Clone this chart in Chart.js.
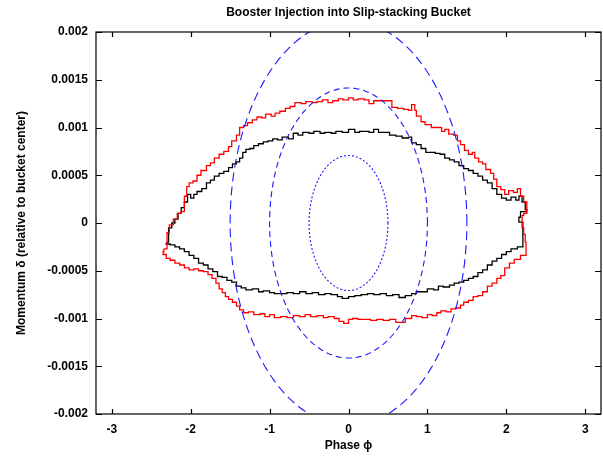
<!DOCTYPE html>
<html>
<head>
<meta charset="utf-8">
<script src="https://cdn.jsdelivr.net/npm/chart.js@4"></script>
<style>
  html, body { margin: 0; padding: 0; background: #fff; }
  #phaseChart { display: block; }
</style>
</head>
<body>
<canvas id="phaseChart" width="603" height="456"></canvas>
<script>
// axis ticks
const xTickValues = [-3, -2, -1, 0, 1, 2, 3];
const yTickValues = [-0.002, -0.0015, -0.001, -0.0005, 0, 0.0005, 0.001, 0.0015, 0.002];
const yTickLabels = ["-0.002", "-0.0015", "-0.001", "-0.0005", "0", "0.0005", "0.001", "0.0015", "0.002"];

// bucket contours: semi-axes in phase and momentum
const ellipsePhase = [0.5, 1.0, 1.5];
const ellipseDelta = [0.000707, 0.001414, 0.00212];
const ellipseDash = [[2, 2], [6, 4], [9, 5]];

// red beam outline (phase, delta in units of 1e-3)
const redPhase = [
  -2.34, -2.30, -2.27, -2.22, -2.17, -2.12, -2.08, -2.05, -2.02, -1.97, -1.92, -1.87, -1.80, -1.75,
  -1.70, -1.64, -1.58, -1.52, -1.48, -1.42, -1.38, -1.33, -1.28, -1.22, -1.16, -1.10, -1.05, -0.98,
  -0.93, -0.87, -0.80, -0.74, -0.68, -0.60, -0.54, -0.46, -0.40, -0.33, -0.26, -0.20, -0.13, -0.07,
  0.00, 0.06, 0.12, 0.20, 0.26, 0.32, 0.40, 0.50, 0.55, 0.62, 0.70, 0.76, 0.80, 0.84, 0.86, 0.92,
  0.97, 1.05, 1.12, 1.18, 1.22, 1.27, 1.33, 1.38, 1.42, 1.47, 1.52, 1.57, 1.60, 1.65, 1.70, 1.74,
  1.80, 1.84, 1.88, 1.93, 1.98, 2.03, 2.09, 2.14, 2.18, 2.22, 2.26, 2.26,
  2.22, 2.20, 2.22, 2.24, 2.25,
  2.18, 2.10, 2.04, 1.98, 1.93, 1.88, 1.82, 1.76, 1.70, 1.64, 1.58, 1.52, 1.46, 1.42, 1.36, 1.30,
  1.24, 1.17, 1.12, 1.06, 1.00, 0.93, 0.86, 0.80, 0.72, 0.66, 0.60, 0.52, 0.44, 0.36, 0.28, 0.20,
  0.12, 0.05, 0.00, -0.06, -0.12, -0.18, -0.26, -0.32, -0.40, -0.48, -0.55, -0.62, -0.70, -0.78,
  -0.86, -0.94, -1.00, -1.06, -1.12, -1.20, -1.27, -1.33, -1.38, -1.42, -1.47, -1.52, -1.56, -1.60,
  -1.64, -1.68, -1.73, -1.78, -1.84, -1.90, -1.96, -2.02, -2.08, -2.14, -2.20, -2.26, -2.31, -2.35,
  -2.34
];
const redDelta = [
  -0.27, -0.10, -0.02, 0.04, 0.10, 0.12, 0.28, 0.38, 0.42, 0.44, 0.50, 0.55, 0.60, 0.63,
  0.68, 0.72, 0.75, 0.80, 0.86, 0.92, 1.00, 1.02, 1.05, 1.08, 1.11, 1.10, 1.14, 1.12,
  1.15, 1.17, 1.20, 1.22, 1.26, 1.25, 1.27, 1.26, 1.27, 1.29, 1.26, 1.28, 1.30, 1.29,
  1.31, 1.29, 1.30, 1.29, 1.25, 1.28, 1.28, 1.28, 1.21, 1.20, 1.19, 1.18, 1.24, 1.18, 1.12, 1.06,
  1.03, 1.00, 1.00, 0.96, 0.98, 0.93, 0.92, 0.86, 0.82, 0.76, 0.72, 0.74, 0.68, 0.64, 0.62, 0.56,
  0.52, 0.46, 0.38, 0.35, 0.30, 0.34, 0.32, 0.36, 0.28, 0.22, 0.18, 0.10,
  0.08, -0.05, -0.12, -0.20, -0.34,
  -0.38, -0.42, -0.47, -0.55, -0.58, -0.63, -0.66, -0.72, -0.76, -0.77, -0.81, -0.83, -0.86, -0.89, -0.90, -0.93,
  -0.92, -0.94, -0.97, -0.96, -0.99, -0.98, -0.97, -1.00, -1.04, -1.04, -1.01, -1.02, -1.01, -1.02, -1.01, -1.01,
  -1.00, -1.01, -1.05, -1.03, -1.00, -0.98, -0.99, -0.97, -0.98, -0.96, -0.98, -0.97, -0.99, -0.98,
  -0.99, -0.96, -0.98, -0.95, -0.96, -0.93, -0.94, -0.91, -0.87, -0.83, -0.80, -0.77, -0.73, -0.69,
  -0.63, -0.58, -0.54, -0.51, -0.50, -0.48, -0.49, -0.47, -0.44, -0.42, -0.39, -0.37, -0.33, -0.30,
  -0.27
];

// black beam outline (phase, delta in units of 1e-3)
const blackPhase = [
  -2.30, -2.28, -2.24, -2.20, -2.16, -2.12, -2.08, -2.04, -2.00, -1.96, -1.92, -1.86, -1.80, -1.75,
  -1.70, -1.64, -1.58, -1.52, -1.47, -1.42, -1.38, -1.34, -1.30, -1.25, -1.20, -1.14, -1.08, -1.02,
  -0.96, -0.90, -0.84, -0.76, -0.70, -0.64, -0.58, -0.50, -0.44, -0.36, -0.30, -0.22, -0.16, -0.08,
  0.00, 0.08, 0.14, 0.20, 0.26, 0.32, 0.38, 0.46, 0.52, 0.60, 0.68, 0.76, 0.80, 0.86, 0.92, 0.98,
  1.04, 1.10, 1.16, 1.22, 1.28, 1.34, 1.40, 1.46, 1.52, 1.58, 1.64, 1.70, 1.76, 1.82, 1.88, 1.94,
  2.00, 2.06, 2.12, 2.16, 2.20, 2.24, 2.26,
  2.18, 2.16, 2.21, 2.21,
  2.14, 2.06, 2.00, 1.94, 1.88, 1.82, 1.76, 1.70, 1.64, 1.58, 1.52, 1.46, 1.40, 1.34, 1.28, 1.20,
  1.14, 1.08, 1.00, 0.94, 0.86, 0.80, 0.72, 0.64, 0.56, 0.48, 0.40, 0.32, 0.24, 0.16, 0.08, 0.00,
  -0.08, -0.14, -0.22, -0.30, -0.38, -0.46, -0.54, -0.62, -0.70, -0.78, -0.86, -0.94, -1.00, -1.08,
  -1.14, -1.22, -1.30, -1.36, -1.42, -1.48, -1.54, -1.60, -1.66, -1.72, -1.78, -1.84, -1.90, -1.96,
  -2.02, -2.08, -2.14, -2.20, -2.26, -2.32, -2.30
];
const blackDelta = [
  -0.20, -0.05, 0.00, 0.04, 0.10, 0.16, 0.22, 0.30, 0.26, 0.30, 0.33, 0.36, 0.42, 0.45,
  0.49, 0.52, 0.54, 0.58, 0.62, 0.64, 0.68, 0.74, 0.77, 0.78, 0.81, 0.83, 0.85, 0.86,
  0.88, 0.87, 0.90, 0.88, 0.94, 0.92, 0.95, 0.94, 0.96, 0.94, 0.95, 0.94, 0.96, 0.95,
  0.98, 0.95, 0.96, 0.96, 0.95, 0.98, 0.95, 0.95, 0.92, 0.91, 0.89, 0.90, 0.84, 0.82, 0.78, 0.74,
  0.74, 0.73, 0.72, 0.68, 0.66, 0.64, 0.60, 0.57, 0.55, 0.52, 0.49, 0.45, 0.42, 0.36, 0.30, 0.26,
  0.24, 0.27, 0.24, 0.28, 0.22, 0.14, 0.12,
  0.06, 0.01, -0.02, -0.25,
  -0.27, -0.30, -0.33, -0.37, -0.40, -0.44, -0.49, -0.52, -0.56, -0.58, -0.60, -0.62, -0.63, -0.65, -0.67, -0.66,
  -0.70, -0.69, -0.72, -0.72, -0.74, -0.76, -0.78, -0.75, -0.76, -0.74, -0.75, -0.74, -0.75, -0.76, -0.77, -0.79,
  -0.77, -0.75, -0.74, -0.75, -0.73, -0.74, -0.72, -0.74, -0.73, -0.74, -0.74, -0.73, -0.71, -0.72,
  -0.69, -0.70, -0.68, -0.66, -0.62, -0.60, -0.57, -0.56, -0.51, -0.48, -0.44, -0.42, -0.37, -0.34,
  -0.30, -0.27, -0.25, -0.23, -0.22, -0.22, -0.20
];

const FONT = "'Liberation Sans', Arial, Helvetica, sans-serif";

function outline(phase, deltaMilli) {
  return phase.map((x, i) => ({ x: x, y: deltaMilli[i] / 1000 }));
}

function ellipsePoints(a, b) {
  const pts = [];
  for (let k = 0; k <= 240; k++) {
    const t = (k / 240) * 2 * Math.PI;
    pts.push({ x: a * Math.cos(t), y: b * Math.sin(t) });
  }
  return pts;
}

const datasets = [];
ellipsePhase.forEach((a, i) => {
  datasets.push({
    data: ellipsePoints(a, ellipseDelta[i]),
    borderColor: "#1a1aff",
    borderWidth: 1.1,
    borderDash: ellipseDash[i],
    showLine: true,
    pointRadius: 0,
    tension: 0
  });
});
datasets.push({
  data: outline(redPhase, redDelta),
  borderColor: "#ff0000",
  borderWidth: 1.3,
  stepped: true,
  showLine: true,
  pointRadius: 0
});
datasets.push({
  data: outline(blackPhase, blackDelta),
  borderColor: "#000000",
  borderWidth: 1.3,
  stepped: true,
  showLine: true,
  pointRadius: 0
});

// frame, inward ticks on all four sides, and the title centred over the plot
const framePlugin = {
  id: "frame",
  afterDraw(chart) {
    const { ctx, chartArea: a, scales } = chart;
    ctx.save();
    ctx.strokeStyle = "#000";
    ctx.lineWidth = 1.2;
    ctx.strokeRect(a.left, a.top, a.right - a.left, a.bottom - a.top);
    ctx.beginPath();
    xTickValues.forEach(v => {
      const px = Math.round(scales.x.getPixelForValue(v)) + 0.5;
      ctx.moveTo(px, a.bottom); ctx.lineTo(px, a.bottom - 5);
      ctx.moveTo(px, a.top); ctx.lineTo(px, a.top + 5);
    });
    yTickValues.forEach(v => {
      const py = Math.round(scales.y.getPixelForValue(v)) + 0.5;
      ctx.moveTo(a.left, py); ctx.lineTo(a.left + 6, py);
      ctx.moveTo(a.right, py); ctx.lineTo(a.right - 6, py);
    });
    ctx.stroke();
    ctx.fillStyle = "#000";
    ctx.font = "bold 12px " + FONT;
    ctx.textAlign = "center";
    ctx.textBaseline = "middle";
    ctx.fillText("Booster Injection into Slip-stacking Bucket", (a.left + a.right) / 2, 13);
    ctx.restore();
  }
};

new Chart(document.getElementById("phaseChart"), {
  type: "scatter",
  data: { datasets: datasets },
  options: {
    responsive: false,
    animation: false,
    devicePixelRatio: 1,
    layout: { padding: { top: 32, right: 2, left: 0, bottom: 0 } },
    plugins: { legend: { display: false }, tooltip: { enabled: false }, title: { display: false } },
    scales: {
      x: {
        type: "linear",
        min: -3.2,
        max: 3.2,
        afterBuildTicks: s => { s.ticks = xTickValues.map(v => ({ value: v })); },
        afterFit: s => { s.height = 42; },
        grid: { display: false, drawTicks: false },
        border: { display: false },
        ticks: {
          padding: 8,
          color: "#000",
          font: { family: FONT, size: 12, weight: "bold" },
          callback: v => String(v)
        },
        title: {
          display: true,
          text: "Phase ϕ",
          color: "#000",
          font: { family: FONT, size: 12, weight: "bold" },
          padding: { top: 0, bottom: 3 }
        }
      },
      y: {
        type: "linear",
        min: -0.002,
        max: 0.002,
        afterBuildTicks: s => { s.ticks = yTickValues.map(v => ({ value: v })); },
        afterFit: s => { s.width = 96; },
        grid: { display: false, drawTicks: false },
        border: { display: false },
        ticks: {
          padding: 8,
          color: "#000",
          font: { family: FONT, size: 12, weight: "bold" },
          callback: (v, i) => yTickLabels[i]
        },
        title: {
          display: true,
          text: "Momentum δ (relative to bucket center)",
          color: "#000",
          font: { family: FONT, size: 12, weight: "bold" },
          padding: { top: 14, bottom: 0 }
        }
      }
    }
  },
  plugins: [framePlugin]
});
</script>
</body>
</html>
